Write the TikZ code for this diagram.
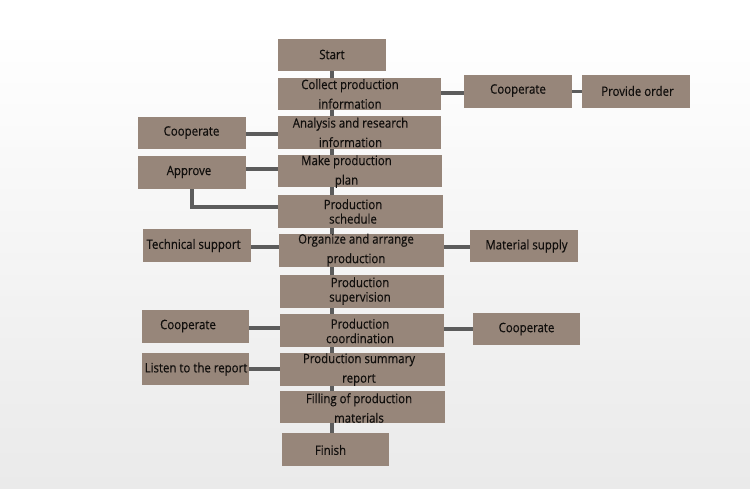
\documentclass[tikz,border=0pt]{standalone}
\usepackage{fontspec}
\setmainfont{Open Sans}[FakeStretch=0.88,FakeBold=0.3]
\pgfdeclarelayer{bg}
\pgfdeclarelayer{edges}
\pgfsetlayers{bg,edges,main}
\definecolor{boxc}{RGB}{151,134,122}
\definecolor{linec}{RGB}{92,92,92}
\definecolor{txtc}{RGB}{16,14,12}
\definecolor{bgbot}{RGB}{224,224,224}
\definecolor{bgmid}{RGB}{238,238,238}
\pgfdeclareverticalshading{bgsh}{100bp}{color(0bp)=(bgbot); color(35bp)=(bgmid); color(72bp)=(white); color(100bp)=(white)}
\begin{document}
\begin{tikzpicture}[x=1pt,y=-1pt,
  box/.style={rectangle, fill=boxc, draw=none, inner sep=0pt},
  lbl/.style={font=\fontsize{13}{19.5}\selectfont, text=txtc, align=center, inner sep=0pt},
  lblt/.style={font=\fontsize{13}{14.5}\selectfont, text=txtc, align=center, inner sep=0pt},
  conn/.style={draw=linec, line width=3.2pt}]
\begin{pgfonlayer}{bg}
\shade[shading=bgsh] (0,0) rectangle (750,489);
\end{pgfonlayer}
\useasboundingbox (0,0) rectangle (750,489);
% main column boxes
\node[box, minimum width=108pt, minimum height=32pt] (start) at (332,55) {};
\node[box, minimum width=163pt, minimum height=32pt] (collect) at (359.5,94) {};
\node[box, minimum width=163pt, minimum height=33pt] (analysis) at (359.5,132.5) {};
\node[box, minimum width=164pt, minimum height=32pt] (make) at (360,171) {};
\node[box, minimum width=165pt, minimum height=33pt] (sched) at (360.5,211.5) {};
\node[box, minimum width=165pt, minimum height=33pt] (organize) at (361.5,250.5) {};
\node[box, minimum width=164pt, minimum height=33pt] (superv) at (362,291.5) {};
\node[box, minimum width=164pt, minimum height=33pt] (coord) at (362,330.5) {};
\node[box, minimum width=165pt, minimum height=33pt] (summary) at (362.5,369.5) {};
\node[box, minimum width=165pt, minimum height=32pt] (filling) at (362.5,407) {};
\node[box, minimum width=107pt, minimum height=33pt] (finish) at (335.5,449.5) {};
% side boxes
\node[box, minimum width=108pt, minimum height=32pt] (coopL1) at (192,133) {};
\node[box, minimum width=108pt, minimum height=33pt] (approve) at (192,172.5) {};
\node[box, minimum width=108pt, minimum height=33pt] (tech) at (197,245.5) {};
\node[box, minimum width=107pt, minimum height=33pt] (coopL2) at (195.5,326.5) {};
\node[box, minimum width=107pt, minimum height=32pt] (listen) at (195.5,369) {};
\node[box, minimum width=108pt, minimum height=33pt] (coopR1) at (518,91.5) {};
\node[box, minimum width=108pt, minimum height=33pt] (order) at (636,91.5) {};
\node[box, minimum width=108pt, minimum height=32pt] (material) at (524,246) {};
\node[box, minimum width=107pt, minimum height=32pt] (coopR2) at (526.5,329) {};
% texts
\node[lbl] (t-start) at (332,54.5) {Start};
\node[lbl] (t-collect) at (350,94) {Collect production\\information};
\node[lbl] (t-analysis) at (350.5,132.5) {Analysis and research\\information};
\node[lbl] (t-make) at (346.5,171.5) {Make production\\plan};
\node[lblt] (t-sched) at (353,211.5) {Production\\schedule};
\node[lbl] (t-organize) at (356,250) {Organize and arrange\\production};
\node[lblt] (t-superv) at (360,291) {Production\\supervision};
\node[lblt] (t-coord) at (360,331) {Production\\coordination};
\node[lbl] (t-summary) at (359,369.5) {Production summary\\report};
\node[lbl] (t-filling) at (359,408) {Filling of production\\materials};
\node[lbl] (t-finish) at (330.5,450) {Finish};
\node[lbl] (t-coopL1) at (191.5,132.5) {Cooperate};
\node[lbl] (t-approve) at (189,172) {Approve};
\node[lbl] (t-tech) at (193.5,245.5) {Technical support};
\node[lbl] (t-coopL2) at (188,326) {Cooperate};
\node[lbl] (t-listen) at (196,369) {Listen to the report};
\node[lbl] (t-coopR1) at (518,90.5) {Cooperate};
\node[lbl] (t-order) at (637.5,91) {Provide order};
\node[lbl] (t-material) at (526.5,246) {Material supply};
\node[lbl] (t-coopR2) at (526.5,329) {Cooperate};
% connectors
\begin{pgfonlayer}{edges}
\draw[conn] (start.south) -- (start.south |- finish.north);
\draw[conn] ([yshift=1pt]collect.east) -- ([yshift=1pt]collect.east -| coopR1.west);
\draw[conn] (coopR1.east) -- (order.west);
\draw[conn] ([yshift=-1pt]coopL1.east) -- ([yshift=-1pt]coopL1.east -| analysis.west);
\draw[conn] ([yshift=2pt]make.west -| approve.east) -- ([yshift=2pt]make.west);
\draw[conn] (approve.south) |- ([yshift=4.5pt]sched.west);
\draw[conn] ([yshift=-1.5pt]tech.east) -- ([yshift=-1.5pt]tech.east -| organize.west);
\draw[conn] ([yshift=-1pt]material.west) -- ([yshift=-1pt]material.west -| organize.east);
\draw[conn] ([yshift=-1.5pt]coopL2.east) -- ([yshift=-1.5pt]coopL2.east -| coord.west);
\draw[conn] (coopR2.west) -- (coopR2.west -| coord.east);
\draw[conn] (listen.east) -- (listen.east -| summary.west);
\end{pgfonlayer}
\end{tikzpicture}
\end{document}
